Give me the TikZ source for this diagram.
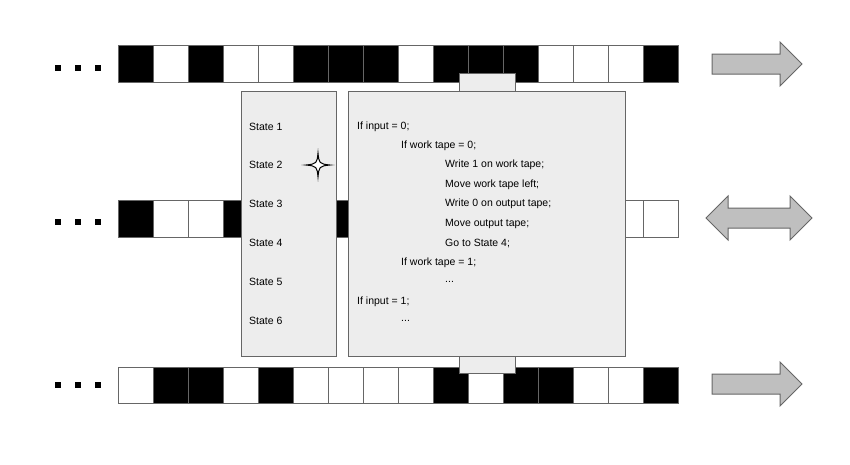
\documentclass[tikz,border=0pt]{standalone}
\usepackage{fontspec}
\setmainfont{Liberation Sans}
\begin{document}
\begin{tikzpicture}[x=1pt,y=-1pt,
  cell/.style={draw=black!60,line width=1pt},
  panel/.style={draw=black!60,fill=black!7,line width=1pt},
  arr/.style={draw=black!60,fill=black!25,line width=1pt},
  txt/.style={anchor=west,font=\fontsize{10.5}{12}\selectfont,inner sep=0pt}]
\useasboundingbox (0,0) rectangle (850,464);
% tapes
\def\tape#1#2#3{%
  \foreach \c [count=\i from 0] in {#3} {%
    \pgfmathsetmacro\xx{118+35*\i}
    \ifnum\c=1 \filldraw[cell,fill=black] (\xx,#1) rectangle ++(35,#2);
    \else \filldraw[cell,fill=white] (\xx,#1) rectangle ++(35,#2); \fi}}
\tape{45}{37}{1,0,1,0,0,1,1,1,0,1,1,1,0,0,0,1}
\tape{200}{37}{1,0,0,1,1,1,1,1,1,1,1,1,1,1,0,0}
\tape{367}{36}{0,1,1,0,1,0,0,0,0,1,0,1,1,0,0,1}
% dots
\foreach \y in {68,222,385}
  \foreach \x in {58,78,98} \fill (\x-3,\y-3) rectangle ++(6,6);
% tabs
\node[panel,minimum width=56,minimum height=20,anchor=north west] (tabt) at (459,73) {};
\node[panel,minimum width=56,minimum height=20,anchor=north west] (tabb) at (459,353) {};
% panels
\node[panel,minimum width=95,minimum height=265,anchor=north west] (states) at (241,91) {};
\node[panel,minimum width=277,minimum height=265,anchor=north west] (prog) at (348,91) {};
% states
\foreach \s/\y in {1/127,2/165,3/204,4/243,5/282,6/321}
  \node[txt] (s\s) at (249,\y) {State \s};
\draw[line width=1pt,fill=white] (318,153) .. controls (319,163) and (319,164) .. (330,165)
  .. controls (319,166) and (319,167) .. (318,177)
  .. controls (317,167) and (317,166) .. (306,165)
  .. controls (317,164) and (317,163) .. (318,153) -- cycle;
% program
\node[txt] (p1) at (357,127) {If input = 0;};
\node[txt] (p2) at (401,146) {If work tape = 0;};
\node[txt] (p3) at (445,165) {Write 1 on work tape;};
\node[txt] (p4) at (445,185) {Move work tape left;};
\node[txt] (p5) at (445,204) {Write 0 on output tape;};
\node[txt] (p6) at (445,224) {Move output tape;};
\node[txt] (p7) at (445,243) {Go to State 4;};
\node[txt] (p8) at (401,263) {If work tape = 1;};
\node[txt] (p9) at (445,282) {...};
\node[txt] (p10) at (357,302) {If input = 1;};
\node[txt] (p11) at (401,321) {...};
% arrows
\foreach \y in {64,384}
  \draw[arr] (712,\y-10) -- (780,\y-10) -- (780,\y-22) -- (802,\y) -- (780,\y+22) -- (780,\y+10) -- (712,\y+10) -- cycle;
\draw[arr] (706,218) -- (728,196) -- (728,208) -- (790,208) -- (790,196) -- (812,218) -- (790,240) -- (790,228) -- (728,228) -- (728,240) -- cycle;
\end{tikzpicture}
\end{document}
